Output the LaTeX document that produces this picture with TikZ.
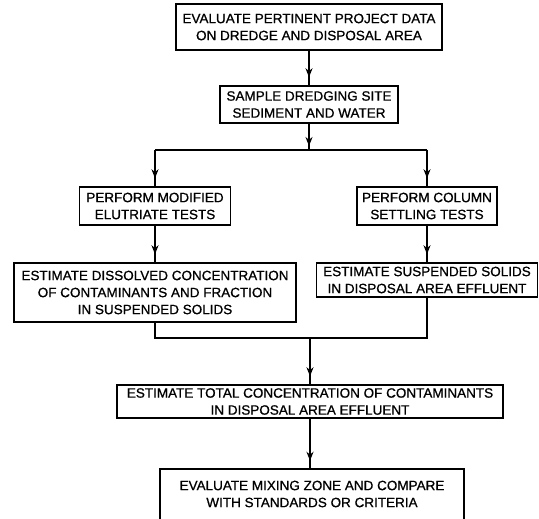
\documentclass[tikz,border=0pt]{standalone}
\usepackage{fontspec}
\setmainfont{Liberation Sans}[FakeBold=0.8]
\newfontfamily\labelfont{Liberation Sans}[FakeBold=0.8]
\usetikzlibrary{arrows.meta,decorations.markings}
\tikzset{
  box/.style={draw, line width=1.5pt, align=center, inner sep=0pt,
    font=\labelfont\fontsize{13.5}{17}\selectfont},
  plain/.style={align=center, inner sep=0pt, font=\labelfont\fontsize{13.5}{17}\selectfont},
  wire/.style={line width=1.6pt},
  conn/.style={wire, postaction={decorate}, decoration={markings,
    mark=at position -8pt with {\arrow{Stealth[width=7pt,length=9pt]}}}},
  connshort/.style={wire, postaction={decorate}, decoration={markings,
    mark=at position -4pt with {\arrow{Stealth[width=7pt,length=9pt]}}}},
}
\begin{document}
\begin{tikzpicture}[x=1pt,y=-1pt]
\useasboundingbox (0,0) rectangle (539,519);
\node[box, minimum width=266pt, minimum height=46pt] (b1) at (309,27)
  {EVALUATE PERTINENT PROJECT DATA\\ON DREDGE AND DISPOSAL AREA};
\node[box, minimum width=178pt, minimum height=37pt] (b2) at (309,104.5)
  {SAMPLE DREDGING SITE\\SEDIMENT AND WATER};
\node[box, minimum width=151pt, minimum height=38pt] (b3) at (155,206)
  {PERFORM MODIFIED\\ELUTRIATE TESTS};
\node[box, minimum width=140pt, minimum height=38pt] (b4) at (427,206)
  {PERFORM COLUMN\\SETTLING TESTS};
\node[box, minimum width=282pt, minimum height=59pt] (b5) at (155,292.5)
  {ESTIMATE DISSOLVED CONCENTRATION\\OF CONTAMINANTS AND FRACTION\\IN SUSPENDED SOLIDS};
\node[box, minimum width=221pt, minimum height=34pt] (b6) at (427,280)
  {ESTIMATE SUSPENDED SOLIDS\\IN DISPOSAL AREA EFFLUENT};
\node[box, minimum width=386pt, minimum height=33pt] (b7) at (310,401.5)
  {ESTIMATE TOTAL CONCENTRATION OF CONTAMINANTS\\IN DISPOSAL AREA EFFLUENT};
\node[plain, minimum width=304pt, minimum height=50pt] (b8) at (312,494)
  {EVALUATE MIXING ZONE AND COMPARE\\WITH STANDARDS OR CRITERIA};
\draw[box] ([yshift=-20pt]b8.south west) -- (b8.north west) -- (b8.north east) -- ([yshift=-20pt]b8.south east);

\coordinate (jC) at (309,150);
\coordinate (jL) at (155,150);
\coordinate (jR) at (427,150);
\coordinate (kC) at (310,338);
\coordinate (kL) at (155,338);
\coordinate (kR) at (427,338);

\draw[conn] (b1.south) -- (b2.north);
\draw[connshort] (b2.south) -- (jC);
\draw[wire] (jL) -- (jR);
\draw[conn] (jL) -- (b3.north);
\draw[conn] (jR) -- (b4.north);
\draw[conn] (b3.south) -- (b5.north);
\draw[conn] (b4.south) -- (b6.north);
\draw[wire] (b5.south) -- (kL) -- (kR) -- (b6.south);
\draw[conn] (kC) -- (b7.north);
\draw[conn] (b7.south) -- (b7.south |- b8.north);
\end{tikzpicture}
\end{document}
